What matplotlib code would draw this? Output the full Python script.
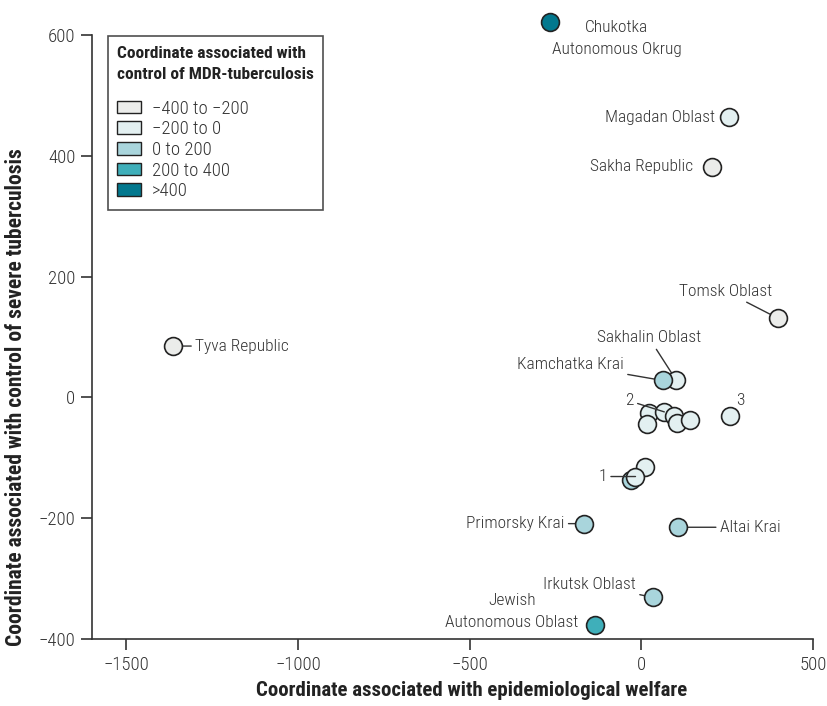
import matplotlib
matplotlib.use('Agg')
import matplotlib.pyplot as plt
from matplotlib.patches import Patch

plt.rcParams['font.family'] = ['Liberation Sans Narrow', 'Roboto Condensed', 'Open Sans Condensed',
                               'DejaVu Sans']
plt.rcParams['font.stretch'] = 'condensed'

# Regions: welfare coordinate (x), severe tuberculosis coordinate (y), MDR class
names = ['Chukotka\nAutonomous Okrug', 'Magadan Oblast', 'Sakha Republic', 'Tomsk Oblast',
         'Tyva Republic', 'Sakhalin Oblast', 'Kamchatka Krai',
         '', '2', '', '', '', '', '3',
         '', '', '1',
         'Primorsky Krai', 'Altai Krai', 'Irkutsk Oblast', 'Jewish\nAutonomous Oblast']
welfare = [-267, 254, 205, 398,
           -1363, 101, 62,
           23, 67, 96, 103, 142, 16, 258,
           -30, 11, -17,
           -166, 107, 33, -134]
severe = [621, 464, 382, 131,
          85, 29, 28,
          -26, -24, -30, -42, -38, -44, -31,
          -136, -116, -131,
          -209, -215, -331, -377]
mdr_class = [4, 1, 0, 0,
             0, 1, 2,
             1, 1, 1, 1, 1, 1, 1,
             2, 1, 1,
             2, 2, 2, 3]

class_labels = ['\u2212400 to \u2212200', '\u2212200 to 0', '0 to 200', '200 to 400', '>400']
class_colors = ['#ebecea', '#e3f0f1', '#a9d5dc', '#3fafba', '#02788e']

# label layout: offset in pixels, alignment, leader line
label_layout = {
    'Chukotka\nAutonomous Okrug': ((67, -16), 'center', False),
    'Magadan Oblast': ((-14, 0), 'right', False),
    'Sakha Republic': ((-19, 0), 'right', False),
    'Tomsk Oblast': ((-6, 27), 'right', True),
    'Tyva Republic': ((22, 0), 'left', True),
    'Sakhalin Oblast': ((-27, 42), 'center', True),
    'Kamchatka Krai': ((-39, 16), 'right', True),
    '2': ((-35, 11), 'center', True),
    '3': ((10, 16), 'center', False),
    '1': ((-33, 0), 'center', True),
    'Primorsky Krai': ((-20, 0), 'right', True),
    'Altai Krai': ((42, 0), 'left', True),
    'Irkutsk Oblast': ((-17, 13), 'right', True),
    'Jewish\nAutonomous Oblast': ((-17, 14), 'right', False),
}

fig = plt.figure(figsize=(8.27, 7.06), dpi=100)
ax = fig.add_axes([92 / 827, 1 - 639 / 706, 721 / 827, 604 / 706])

dark = '#333333'
for xi, yi, ci in zip(welfare, severe, mdr_class):
    ax.scatter(xi, yi, s=165, color=class_colors[ci], edgecolor='#222222',
               linewidth=1.2, zorder=3, clip_on=False)

for name, xi, yi in zip(names, welfare, severe):
    if not name:
        continue
    (dx, dy), ha, line = label_layout[name]
    props = None
    if line:
        inside = name in ('1', '2')
        props = dict(arrowstyle='-', color=dark, lw=1,
                     shrinkA=1, shrinkB=0 if inside else 6)
    ax.annotate(name, (xi, yi), xytext=(dx, dy), textcoords='offset pixels',
                ha=ha, va='center', fontsize=12.5, fontweight='light', color=dark,
                multialignment='center', linespacing=1.6,
                arrowprops=props, annotation_clip=False,
                zorder=4 if name in ('1', '2') else 2)

ax.set_xlim(-1600, 500)
ax.set_ylim(-400, 600)
ax.set_xticks([-1500, -1000, -500, 0, 500])
ax.set_xticklabels(['\u22121500', '\u22121000', '\u2212500', '0', '500'])
ax.set_yticks([-400, -200, 0, 200, 400, 600])
ax.set_yticklabels(['\u2212400', '\u2212200', '0', '200', '400', '600'])
for lbl in ax.get_xticklabels() + ax.get_yticklabels():
    lbl.set_fontweight('light')
for side in ['top', 'right']:
    ax.spines[side].set_visible(False)
for side in ['left', 'bottom']:
    ax.spines[side].set_color(dark)
    ax.spines[side].set_linewidth(1.2)
ax.tick_params(direction='out', length=8, width=1.2, color=dark,
               labelsize=13.5, labelcolor=dark, pad=4)

ax.set_xlabel('Coordinate associated with epidemiological welfare',
              fontsize=15, fontweight='bold', color='#222222')
ax.set_ylabel('Coordinate associated with control of severe tuberculosis',
              fontsize=15.5, fontweight='bold', color='#222222')
ax.xaxis.set_label_coords(0.527, -0.070)
ax.yaxis.set_label_coords(-0.090, 0.40)

handles = [Patch(facecolor=c, edgecolor='#222222', linewidth=1) for c in class_colors]
leg = ax.legend(handles, class_labels,
                title='Coordinate associated with\ncontrol of MDR-tuberculosis',
                loc='upper left', bbox_to_anchor=(0.022, 0.998), borderaxespad=0,
                prop={'size': 13.5, 'weight': 'light'},
                title_fontproperties={'weight': 'bold', 'size': 12.5},
                alignment='left', frameon=True, fancybox=False, edgecolor='#222222',
                handlelength=1.25, handleheight=0.65, handletextpad=0.6,
                labelspacing=0.14, borderpad=0.5)
leg.get_frame().set_linewidth(1.2)
for t in leg.get_texts():
    t.set_color(dark)
leg.get_title().set_color('#222222')
leg.get_title().set_linespacing(1.5)
leg._legend_box.sep = 13
leg.set_zorder(5)

fig.savefig('out.png', dpi=100)
